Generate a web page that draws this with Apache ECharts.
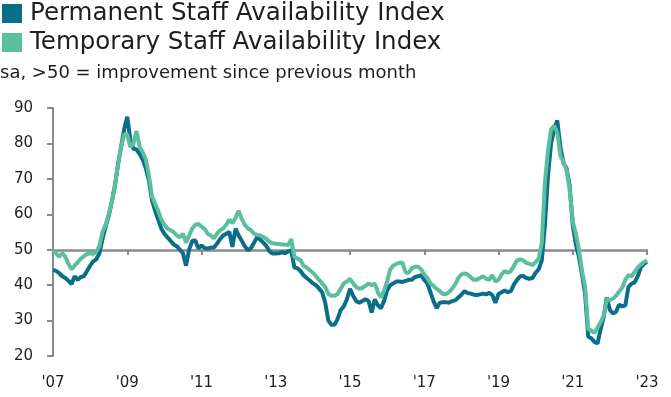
<!DOCTYPE html>
<html>
<head>
<meta charset="utf-8">
<script src="https://cdn.jsdelivr.net/npm/echarts/dist/echarts.min.js"></script>
<style>
html,body{margin:0;padding:0;background:#fff}
#main{width:671px;height:397px}
</style>
</head>
<body>
<div id="main"></div>
<script>
// monthly, Jan 2007 - Jan 2023
var tickLabels = ["'07","'09","'11","'13","'15","'17","'19","'21","'23"];

var permanent = [
    44.3,44,43.4,42.5,42,41.2,40.3,42.5,41.5,42.3,42.5,44,           // 2007
    45.5,46.7,47.3,49,53,56.5,59.5,63.5,68,74,79,84,                 // 2008
    87.5,81,78.5,78.3,77,75.5,73,69.5,64,61,58.5,56,                 // 2009
    54.5,53.5,52.5,51.5,51,50,49,45.5,50,52.5,52.6,50.3,             // 2010
    51.2,50.5,50.3,50.6,50.6,51.7,53,54,54.5,55,50.8,56,             // 2011
    54,52.5,51,49.8,50.5,52,53.6,52.8,52,51,49.5,48.9,               // 2012
    48.9,49,49.3,49,49.5,49.8,45,44.8,44,42.8,42,41.3,               // 2013
    40.5,40,39,38,35,30,28.8,28.8,30.5,33,34,36,                     // 2014
    39,37,35.5,35,35.5,36,35.5,32.3,36,34.3,33.5,35.5,               // 2015
    38.5,40,40.5,41,41,40.9,41.2,41.5,41.5,42.3,42.5,42.8,           // 2016
    41.5,40.5,38,35.5,33.5,35,35.2,35.2,35,35.5,35.7,36.5,           // 2017
    37.3,38.3,37.8,37.6,37.3,37.2,37.4,37.6,37.4,37.8,37.2,35,       // 2018
    37.5,38,38.5,38,38.3,40.2,41.5,42.5,42.6,42,41.8,42,             // 2019
    43.5,44.5,47,57,71,80,84,86.5,79,74.5,73,68,                     // 2020
    57,51.5,48,43,37.5,25.5,25,24,23.5,27.5,31,36.5,                 // 2021
    33,32,32.5,34.5,34,34.3,39.5,40.4,40.8,42.5,45,46,               // 2022
    46.5                                                             // 2023
];

var temporary = [
    49.8,49,48,49,48,46,44.5,45.5,46.5,47.5,48.2,48.8,
    49,48.8,49.5,51,55,57,60,63.5,68,74,79,82.5,
    82.5,79,80,83.5,79,77.5,75.5,71,65,63,61,58.5,
    57,56,55.5,55,54,53.5,54.5,52,54,56,57,57.3,
    56.5,55.9,54.5,54,53.2,54.5,55.5,56,57,58.5,57.5,59,
    61,58.7,57,56,55.5,54.5,54.2,54,53.6,53,52.2,51.8,
    51.7,51.6,51.5,51.5,51.3,53,48,47.5,47,45.5,45,44.2,
    43.5,42.5,41.5,40.5,39.5,37.5,37,37,37.5,39,40.5,41,
    41.8,40.5,39.5,39,39.2,39.8,40.5,40,40.5,38,36.5,38.5,
    41,44.5,45.5,46,46.3,46.3,43.5,43.5,44.8,45.2,45.2,44.5,
    43,42,40.5,39.8,39,38.3,37.5,37.5,38,39,40.2,42,
    43,43.3,43,42.2,41.5,41.5,42,42.5,41.8,41.5,42.8,41,
    41.5,43,44,43.5,44,45.5,47,47.3,47,46.3,46,45.7,
    46.5,47.5,52,69,78,84,85,83,76.5,74.8,72.5,67,
    58,54.5,50,44,39.5,27.5,27.2,26.5,28,29.5,31.5,36,
    35.8,36.2,37,38.2,39.3,41.5,42.8,42.5,43.7,45,45.8,46.5,
    47
];

var months = [];
for (var y = 2007; y <= 2023; y++) {
    for (var mo = 1; mo <= 12; mo++) {
        if (months.length < permanent.length) months.push(y + '-' + (mo < 10 ? '0' + mo : mo));
    }
}

var textColor = '#1e1e1e';
var axisColor = '#8a8a8a';
var font = 'DejaVu Sans';

var myChart = echarts.init(document.getElementById('main'));

var option = {
    animation: false,
    backgroundColor: '#fff',
    title: {
        text: 'sa, >50 = improvement since previous month',
        left: 0,
        top: 64,
        padding: 0,
        textStyle: {fontFamily: font, fontSize: 18, fontWeight: 'normal', color: textColor}
    },
    legend: {
        left: 2,
        top: 1,
        padding: 0,
        orient: 'vertical',
        icon: 'rect',
        itemWidth: 20,
        itemHeight: 19,
        itemGap: 4,
        selectedMode: false,
        textStyle: {fontFamily: font, fontSize: 24.5, lineHeight: 24, color: textColor, padding: [0, 0, 0, 3]},
        data: ['Permanent Staff Availability Index', 'Temporary Staff Availability Index']
    },
    grid: {left: 53, right: 24, top: 108, bottom: 41, containLabel: false, outerBoundsMode: 'none'},
    xAxis: [{
        type: 'category',
        data: months,
        boundaryGap: false,
        position: 'bottom',
        axisLine: {show: false},
        axisTick: {show: false},
        splitLine: {show: false},
        axisLabel: {
            interval: 23,
            margin: 20,
            fontFamily: font,
            fontSize: 15,
            color: textColor,
            formatter: function (v, i) { return tickLabels[Math.round(i / 24)]; }
        }
    }, {
        type: 'category',
        data: months,
        boundaryGap: false,
        position: 'bottom',
        offset: -106,
        axisLine: {show: true, lineStyle: {color: axisColor, width: 2.5}},
        axisTick: {show: true, interval: 23, length: 5, lineStyle: {color: axisColor, width: 2}},
        axisLabel: {show: false},
        splitLine: {show: false}
    }],
    yAxis: {
        type: 'value',
        min: 20,
        max: 90,
        interval: 10,
        axisLine: {show: true, lineStyle: {color: axisColor, width: 2}},
        axisTick: {show: true, length: 6, lineStyle: {color: axisColor, width: 2}},
        splitLine: {show: false},
        axisLabel: {margin: 20, align: 'right', fontFamily: font, fontSize: 15, color: textColor}
    },
    series: [{
        name: 'Permanent Staff Availability Index',
        type: 'line',
        data: permanent,
        symbol: 'none',
        color: '#0b6e89',
        lineStyle: {width: 4, color: '#0b6e89'}
    }, {
        name: 'Temporary Staff Availability Index',
        type: 'line',
        data: temporary,
        symbol: 'none',
        color: '#5abf9f',
        lineStyle: {width: 4, color: '#5abf9f'}
    }]
};
myChart.setOption(option);
</script>
</body>
</html>
